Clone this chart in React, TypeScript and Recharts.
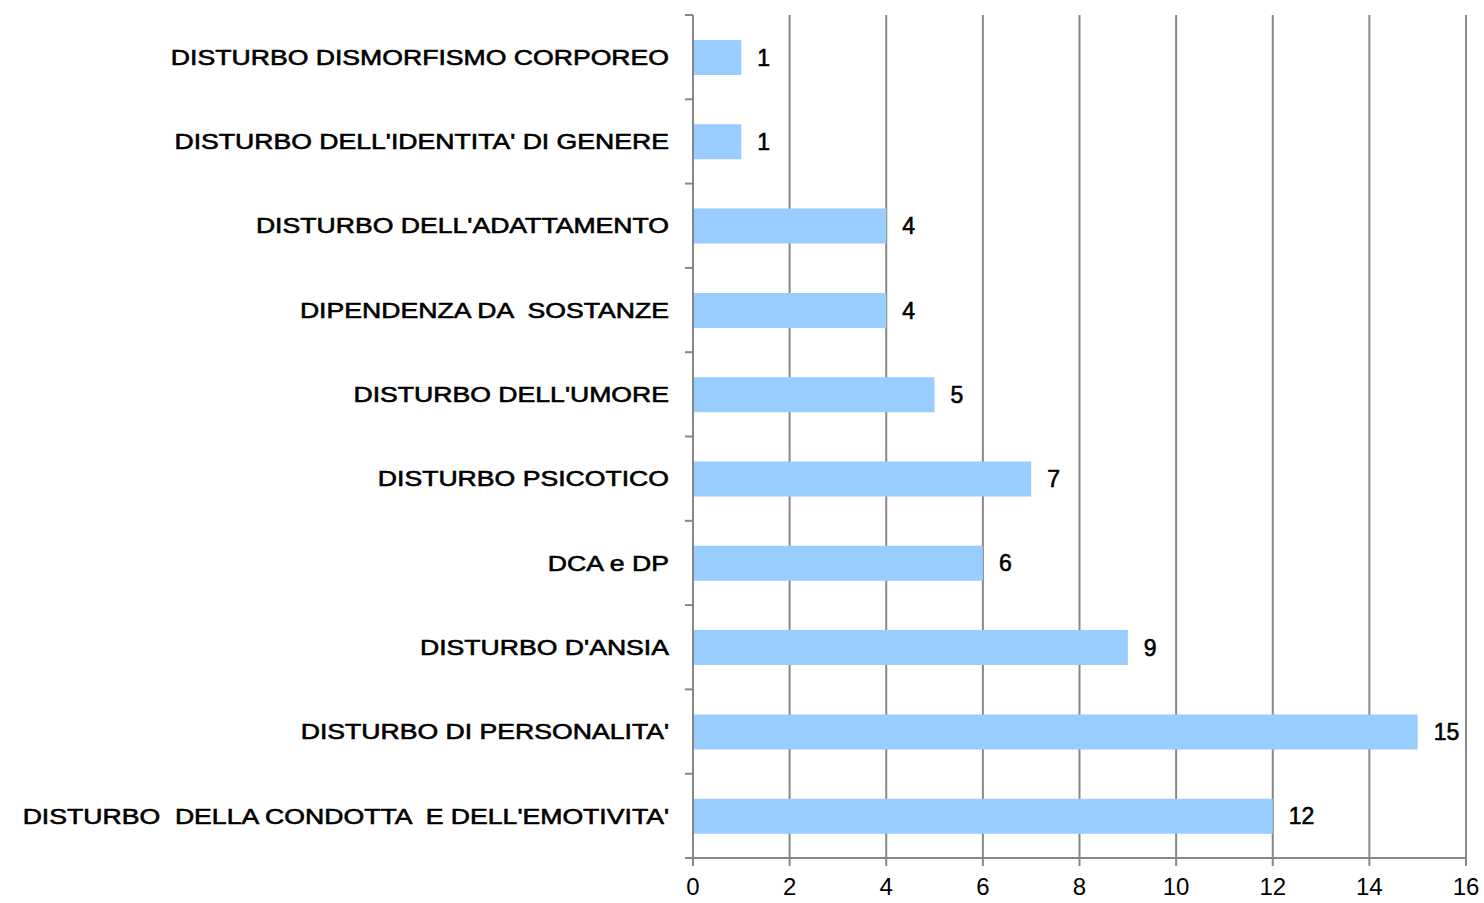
import React from 'react'
import { BarChart, Bar, XAxis, YAxis, CartesianGrid, LabelList } from 'recharts'

const categories = [
  'DISTURBO DISMORFISMO CORPOREO',
  "DISTURBO DELL'IDENTITA' DI GENERE",
  "DISTURBO DELL'ADATTAMENTO",
  'DIPENDENZA DA  SOSTANZE',
  "DISTURBO DELL'UMORE",
  'DISTURBO PSICOTICO',
  'DCA e DP',
  "DISTURBO D'ANSIA",
  "DISTURBO DI PERSONALITA'",
  "DISTURBO  DELLA CONDOTTA  E DELL'EMOTIVITA'",
]
const values = [1, 1, 4, 4, 5, 7, 6, 9, 15, 12]
const xTicks = [0, 2, 4, 6, 8, 10, 12, 14, 16]

const data = categories.map((name, i) => ({ name, value: values[i] }))

const W = 1484
const H = 903
const TOP = 15
const BOTTOM = 45
const BAND = (H - TOP - BOTTOM) / categories.length
const GRAY = '#878787'
const FONT = '"Liberation Sans", Arial, sans-serif'

// labels in the original are rendered wide, stretch them horizontally
function CategoryTick(props: any) {
  const { x, y, payload, index } = props
  const axisX = x + 24
  return (
    <g>
      <text
        transform={`translate(${x},${y}) scale(1.21,1)`}
        x={0}
        y={0}
        textAnchor="end"
        dominantBaseline="central"
        fontSize={22}
        fontFamily={FONT}
        fill="#000"
        stroke="#000"
        strokeWidth={0.6}
        style={{ whiteSpace: 'pre' }}
      >
        {payload.value}
      </text>
      <line x1={axisX - 8} x2={axisX} y1={y - BAND / 2} y2={y - BAND / 2} stroke={GRAY} strokeWidth={2} />
      {index === categories.length - 1 && (
        <line x1={axisX - 8} x2={axisX} y1={y + BAND / 2} y2={y + BAND / 2} stroke={GRAY} strokeWidth={2} />
      )}
    </g>
  )
}

export default function App() {
  return (
    <div style={{ position: 'absolute', left: 0, top: 0, background: '#fff' }}>
      <BarChart
        width={W}
        height={H}
        data={data}
        layout="vertical"
        margin={{ top: TOP, right: 18, left: 0, bottom: 0 }}
        barCategoryGap={0}
      >
        <CartesianGrid horizontal={false} stroke={GRAY} strokeWidth={2} />
        <XAxis
          type="number"
          domain={[0, 16]}
          ticks={xTicks}
          interval={0}
          height={BOTTOM}
          axisLine={{ stroke: GRAY, strokeWidth: 2 }}
          tickLine={{ stroke: GRAY, strokeWidth: 2 }}
          tickSize={8}
          tickMargin={12}
          tick={{ fontSize: 24, fontFamily: FONT, fill: '#000' }}
        />
        <YAxis
          type="category"
          dataKey="name"
          width={693}
          interval={0}
          axisLine={{ stroke: GRAY, strokeWidth: 2 }}
          tickLine={false}
          tickSize={0}
          tickMargin={24}
          tick={<CategoryTick />}
        />
        <Bar dataKey="value" fill="#99CCFF" barSize={35} isAnimationActive={false}>
          <LabelList
            dataKey="value"
            position="right"
            offset={16}
            fill="#000"
            stroke="#000"
            strokeWidth={0.6}
            fontSize={23}
            fontFamily={FONT}
          />
        </Bar>
      </BarChart>
    </div>
  )
}
